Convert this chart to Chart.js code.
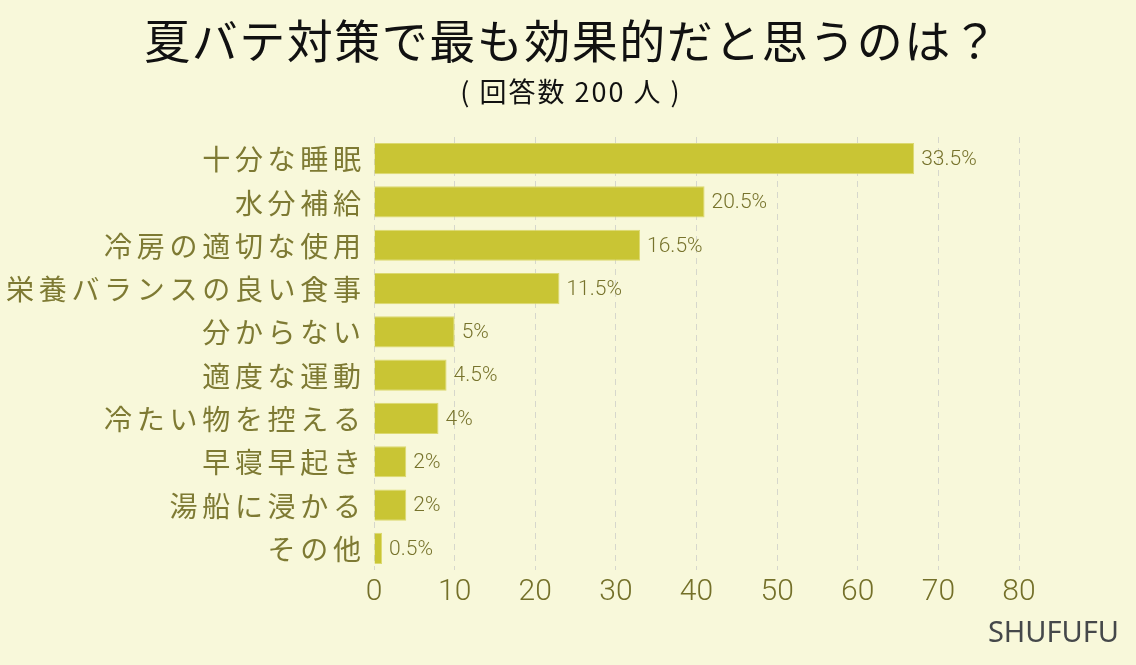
<!DOCTYPE html>
<html>
<head>
<meta charset="utf-8">
<script src="https://cdn.jsdelivr.net/npm/chart.js@4"></script>
<style>
  html, body { margin: 0; padding: 0; background: #f8f8da; }
  #wrap { width: 1136px; height: 665px; }
</style>
</head>
<body>
<div id="wrap"><canvas id="myBarChart" width="1136" height="665"></canvas></div>
<script>
// Data
const labels = ["十分な睡眠", "水分補給", "冷房の適切な使用", "栄養バランスの良い食事", "分からない", "適度な運動", "冷たい物を控える", "早寝早起き", "湯船に浸かる", "その他"];
const counts = [67, 41, 33, 23, 10, 9, 8, 4, 4, 1];
const percents = ["33.5%", "20.5%", "16.5%", "11.5%", "5%", "4.5%", "4%", "2%", "2%", "0.5%"];
const xTicks = [0, 10, 20, 30, 40, 50, 60, 70, 80];

const title = "夏バテ対策で最も効果的だと思うのは？";
const subtitle = "( 回答数 200 人 )";
const credit = "SHUFUFU";

const olive = "#7e7a33";
const cjk = "'Noto Sans CJK JP', 'Noto Sans', sans-serif";
const narrow = "'Liberation Sans Narrow', Roboto, sans-serif";

// text with letter spacing, centred or right aligned
function spacedText(ctx, text, x, y, spacing) {
  ctx.letterSpacing = spacing + "px";
  let shift = 0;
  if (ctx.textAlign === "center") shift = spacing / 2;
  if (ctx.textAlign === "right") shift = spacing;
  ctx.fillText(text, x + shift, y);
  ctx.letterSpacing = "0px";
}

// background, title, y labels, value labels, credit
const decorPlugin = {
  id: "decor",
  beforeDraw(chart) {
    const ctx = chart.ctx;
    ctx.save();
    ctx.fillStyle = "#f8f8da";
    ctx.fillRect(0, 0, chart.width, chart.height);
    ctx.restore();
  },
  afterDraw(chart) {
    const ctx = chart.ctx;
    const yScale = chart.scales.y;
    const meta = chart.getDatasetMeta(0);
    ctx.save();
    ctx.textAlign = "center";
    ctx.textBaseline = "middle";
    ctx.fillStyle = "#111";
    ctx.font = "46px " + cjk;
    spacedText(ctx, title, chart.width / 2 + 3, 41, 1.5);
    ctx.font = "27px " + cjk;
    spacedText(ctx, subtitle, chart.width / 2 + 2, 92, 2);

    // category labels
    ctx.fillStyle = olive;
    ctx.font = "28px " + cjk;
    ctx.textAlign = "right";
    labels.forEach(function (lab, i) {
      spacedText(ctx, lab, yScale.right - 13, yScale.getPixelForTick(i) + 1, 4.7);
    });

    // value labels
    ctx.fillStyle = "#77732c";
    ctx.font = "300 21px " + narrow;
    ctx.textAlign = "left";
    meta.data.forEach(function (bar, i) {
      ctx.fillText(percents[i], bar.x + 7, bar.y + 1);
    });

    // credit
    ctx.fillStyle = "#45484a";
    ctx.font = "29px 'Noto Sans', sans-serif";
    ctx.textAlign = "right";
    ctx.fillText(credit, 1119, 634);
    ctx.restore();
  }
};

const ctx = document.getElementById("myBarChart").getContext("2d");
const myBarChart = new Chart(ctx, {
  type: "bar",
  data: {
    labels: labels,
    datasets: [
      {
        data: counts,
        backgroundColor: "#c9c534",
        borderColor: "#dcd970",
        borderWidth: 1,
        barPercentage: 0.8,
        categoryPercentage: 0.9,
      },
    ],
  },
  options: {
    indexAxis: "y",
    responsive: false,
    animation: false,
    layout: {
      padding: { top: 137, right: 117, bottom: 55, left: 0 },
    },
    plugins: {
      legend: { display: false },
      tooltip: { enabled: false },
    },
    scales: {
      x: {
        min: 0,
        max: 80,
        afterBuildTicks: function (scale) {
          scale.ticks = xTicks.map(function (v) { return { value: v }; });
        },
        afterFit: function (scale) {
          scale.height = 40;
        },
        border: { display: false, dash: [6, 5] },
        grid: {
          color: "#d6d7cc",
          lineWidth: 1,
          drawTicks: false,
        },
        ticks: {
          color: "#747029",
          padding: 4,
          font: { family: narrow, size: 30, weight: 300 },
        },
      },
      y: {
        afterFit: function (scale) {
          scale.width = 374;
        },
        border: { display: false },
        grid: { display: false },
        ticks: { display: false },
      },
    },
  },
  plugins: [decorPlugin],
});
</script>
</body>
</html>
